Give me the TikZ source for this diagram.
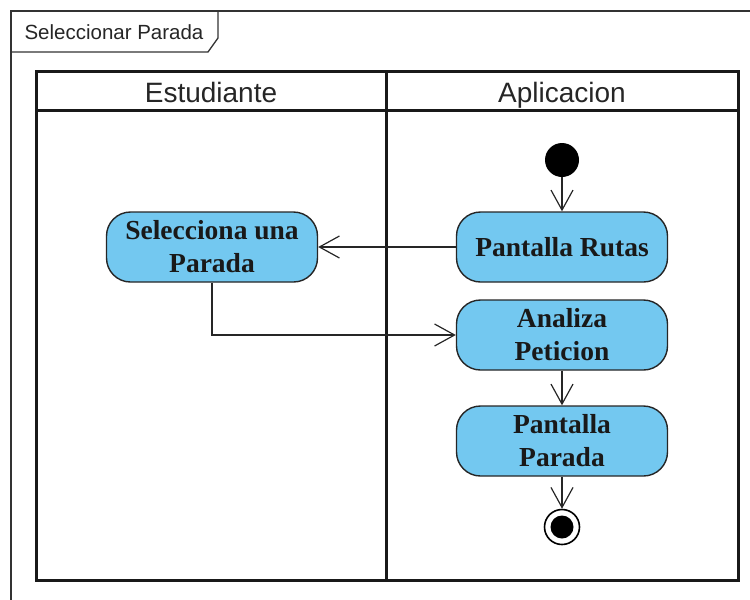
\documentclass[tikz,border=0pt]{standalone}
\usepackage{fontspec}
\setmainfont{Liberation Serif}
\newfontfamily\arialfont{Liberation Sans}
\usetikzlibrary{arrows.meta}
\definecolor{actblue}{RGB}{115,200,240}
\begin{document}
\begin{tikzpicture}[x=1pt,y=-1pt,
  action/.style={draw=black!85, line width=1.4pt, fill=actblue, rounded corners=24pt,
    minimum width=211pt, minimum height=70pt, align=center, inner sep=0pt,
    font=\fontsize{27.5}{33}\selectfont\bfseries, text=black!90},
  flow/.style={draw=black!85, line width=1.2pt, -{Straight Barb[length=20pt,width=22pt,line width=1.2pt]}},
  lanehead/.style={font=\arialfont\fontsize{28}{33}\selectfont, text=black!85, anchor=base, inner sep=0pt},
  lane/.style={draw=black!90, line width=3pt}
]
\useasboundingbox (0,0) rectangle (750,600);
% outer frame
\draw[black!80, line width=1.3pt] (760,11) -- (11,11) -- (11,610);
\draw[black!80, line width=1.3pt] (11,52) -- (208,52) -- (218,38) -- (218,11);
\node[font=\arialfont\fontsize{20.5}{24}\selectfont, anchor=west, text=black!85] (frametitle) at (21,32) {Seleccionar Parada};
% swimlanes
\draw[lane] (36,71) rectangle (738,580);
\draw[lane] (36,110) -- (738,110);
\draw[lane] (386,71) -- (386,580);
\node[lanehead] (lane1) at (211,102) {Estudiante};
\node[lanehead] (lane2) at (562,102) {Aplicacion};
% nodes
\node[circle, fill=black, minimum size=34pt, inner sep=0pt] (start) at (562,160) {};
\node[action] (rutas) at (562,247) {Pantalla Rutas};
\node[action] (selecciona) at (212,247) {Selecciona una\\Parada};
\node[action] (analiza) at (562,335) {Analiza\\Peticion};
\node[action] (parada) at (562,441) {Pantalla\\Parada};
\node[circle, draw=black, line width=1.6pt, fill=white, minimum size=35pt, inner sep=0pt] (fin) at (562,527) {};
\node[circle, fill=black, minimum size=23pt, inner sep=0pt] (finin) at (fin.center) {};
% connectors
\draw[flow] (start) -- (rutas);
\draw[flow] (rutas) -- (selecciona);
\draw[flow] (selecciona.south) |- (analiza.west);
\draw[flow] (analiza) -- (parada);
\draw[flow] (parada) -- (fin);
\end{tikzpicture}
\end{document}
